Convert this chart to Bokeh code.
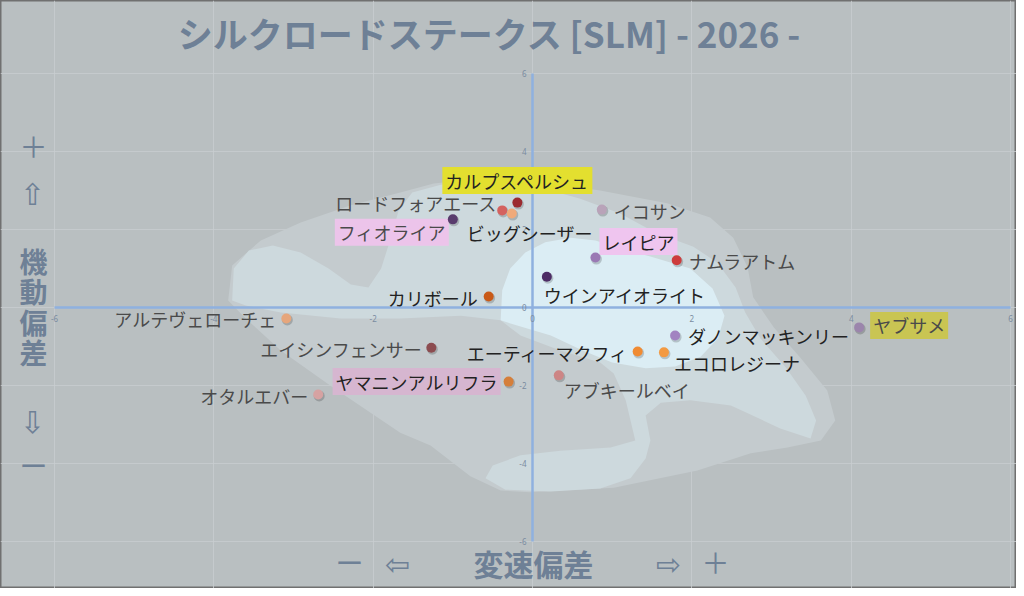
from bokeh.plotting import figure
from bokeh.models import Range1d, FixedTicker, ColumnDataSource
from bokeh.core.properties import value
from bokeh.embed import file_html
from bokeh.resources import INLINE

# ---------------- data ----------------
TITLE = "シルクロードステークス [SLM]  - 2026 -"
X_LABEL = "変速偏差"
Y_LABEL = "機動偏差"

horses = ["カルプスペルシュ", "ロードフォアエース", "ビッグシーザー", "フィオライア",
          "イコサン", "レイピア", "ナムラアトム", "ウインアイオライト", "カリボール",
          "アルテヴェローチェ", "エイシンフェンサー", "ヤマニンアルリフラ", "オタルエバー",
          "ダノンマッキンリー", "ヤブサメ", "エーティーマクフィ", "エコロレジーナ", "アブキールベイ"]
speed_dev = [-0.19, -0.38, -0.26, -1.00, 0.87, 0.79, 1.81, 0.18, -0.55,
             -3.09, -1.27, -0.30, -2.69, 1.79, 4.10, 1.32, 1.65, 0.33]
agility_dev = [2.69, 2.49, 2.41, 2.26, 2.51, 1.28, 1.21, 0.79, 0.28,
               -0.28, -1.03, -1.90, -2.23, -0.72, -0.51, -1.13, -1.15, -1.74]

TICKS = [-6, -4, -2, 0, 2, 4, 6]
AXIS_LIMITS = [-6, 6]

# density zones (data units)
zone_outer_x = [-3.82, -3.77, -3.41, -2.91, -2.28, -1.66, -1.24, -0.65, -0.03, 0.85, 1.69, 2.23,
                2.52, 2.70, 2.77, 3.03, 3.36, 3.70, 3.80, 3.62, 3.20, 2.74, 2.07, 1.02, -0.03,
                -0.40, -0.78, -1.28, -1.66, -2.54, -3.16, -3.60]
zone_outer_y = [0.18, 1.08, 1.72, 2.18, 2.62, 2.95, 3.18, 3.31, 3.26, 3.00, 2.67, 2.31,
                1.79, 1.03, 0.26, -0.51, -1.28, -2.13, -2.90, -3.41, -3.59, -3.74, -4.18, -4.62, -4.74,
                -4.69, -4.33, -3.54, -3.21, -2.00, -1.10, -0.28]
zone_mid_x = [-3.77, -3.75, -3.56, -3.26, -2.91, -2.56, -2.28, -2.06, -1.90, -1.78, -1.68, -1.51,
              -1.15, -0.65, -0.03, 0.60, 1.10, 1.54, 2.02, 2.32, 2.55, 2.67, 2.86, 3.18, 3.43,
              3.56, 3.49, 3.11, 2.49, 1.98, 1.61, 1.42, 1.48, 1.42, 1.23, 0.85, 0.23, -0.34,
              -0.59, -0.50, -0.15, 0.35, 0.98, 1.29, 1.17, 1.02, 0.85, 0.35, -0.15, -0.40,
              -0.90, -1.66, -2.41, -3.16, -3.60]
zone_mid_y = [0.18, 1.00, 1.46, 1.59, 1.41, 1.00, 0.59, 0.51, 1.00, 1.77, 2.49, 2.95,
              3.15, 3.23, 3.15, 2.79, 2.41, 1.92, 1.56, 1.15, 0.51, -0.13, -0.79, -1.54, -2.26,
              -2.90, -3.36, -3.10, -2.51, -2.38, -2.44, -2.77, -3.41, -3.87, -4.38, -4.64, -4.72, -4.67,
              -4.38, -4.05, -3.79, -3.67, -3.59, -3.41, -2.38, -1.69, -1.41, -1.10, -0.72, -0.33,
              -0.21, -0.28, -0.28, -0.13, 0.05]
zone_core_x = [-0.40, -0.38, -0.28, -0.09, 0.16, 0.48, 0.79, 1.10, 1.48, 1.98, 2.26, 2.41,
               2.33, 2.11, 1.79, 1.42, 1.00, 0.63, 0.23, -0.15]
zone_core_y = [-0.33, 0.44, 1.00, 1.41, 1.67, 1.79, 1.72, 1.51, 1.31, 1.00, 0.49, -0.21,
               -0.79, -1.26, -1.51, -1.56, -1.41, -1.10, -0.72, -0.49]

# ---------------- styles ----------------
POINT_COLORS = {
    "カルプスペルシュ": "#9b2b30", "ロードフォアエース": "#d4625f", "ビッグシーザー": "#f0aa7a",
    "フィオライア": "#593c6d", "イコサン": "#b9a3b9", "レイピア": "#9a79b4", "ナムラアトム": "#cd3c3c",
    "ウインアイオライト": "#4d2c65", "カリボール": "#c95a18", "アルテヴェローチェ": "#e6a67c",
    "エイシンフェンサー": "#8c4c50", "ヤマニンアルリフラ": "#d57f3b", "オタルエバー": "#d6a2a2",
    "ダノンマッキンリー": "#a283c1", "ヤブサメ": "#9b85ac", "エーティーマクフィ": "#f08b33",
    "エコロレジーナ": "#f39a42", "アブキールベイ": "#cd8585",
}
# label offsets in screen px (dx right, dy down) and alignment
LABEL_LAYOUT = {
    "カルプスペルシュ": (0, -22, "center"), "ロードフォアエース": (-5, -7, "right"),
    "ビッグシーザー": (-45, 19, "left"), "フィオライア": (-7, 13, "right"),
    "イコサン": (12, 1, "left"), "レイピア": (7, -16, "left"), "ナムラアトム": (12, 1, "left"),
    "ウインアイオライト": (-3, 18, "left"), "カリボール": (-11, 1, "right"),
    "アルテヴェローチェ": (-10, 1, "right"), "エイシンフェンサー": (-9, 1, "right"),
    "ヤマニンアルリフラ": (-11, 0, "right"), "オタルエバー": (-10, 2, "right"),
    "ダノンマッキンリー": (13, 0, "left"), "ヤブサメ": (14, -2, "left"),
    "エーティーマクフィ": (-9, 1, "right"), "エコロレジーナ": (10, 11, "left"),
    "アブキールベイ": (5, 15, "left"),
}
DARK_LABELS = {"カルプスペルシュ", "ビッグシーザー", "レイピア", "ウインアイオライト", "カリボール",
               "ダノンマッキンリー", "エーティーマクフィ", "エコロレジーナ", "ヤマニンアルリフラ"}
HIGHLIGHT = {"カルプスペルシュ": "#e3df2f", "フィオライア": "#ecc4ea", "レイピア": "#efc5ef",
             "ヤマニンアルリフラ": "#d6b6d0", "ヤブサメ": "#c9c553"}

BG = "#b9bfc1"
Z1, Z2, Z3 = "#c4cbce", "#cdd9dd", "#dbedf4"
SLATE = "#6e8096"
JP = value("Noto Sans CJK JP")
ARROW = value("DejaVu Sans")
LABEL_FS = 18

# ---------------- layout ----------------
W, H = 1016, 588
PX_X, PX_Y = 79.667, 39.0      # pixels per data unit
OX, OY = 532, 307              # pixel of the data origin


def fx(px):
    return (px - OX) / PX_X


def fy(py):
    return (OY - py) / PX_Y


p = figure(width=W, height=H, output_backend="svg", toolbar_location=None,
           x_range=Range1d(fx(0), fx(W)), y_range=Range1d(fy(H), fy(0)),
           min_border=0, min_border_left=0, min_border_right=0,
           min_border_top=0, min_border_bottom=0)
p.axis.visible = False
p.background_fill_color = BG
p.border_fill_color = BG
p.outline_line_color = "#707070"
p.outline_line_width = 2

p.xgrid.ticker = FixedTicker(ticks=TICKS)
p.ygrid.ticker = FixedTicker(ticks=TICKS)
p.xgrid.bounds = (AXIS_LIMITS[0], AXIS_LIMITS[1])
p.ygrid.bounds = (AXIS_LIMITS[0], AXIS_LIMITS[1])
p.grid.grid_line_color = "#c8cdcf"
p.grid.grid_line_width = 1
p.grid.grid_line_alpha = 0.8

# density zones
p.patch(zone_outer_x, zone_outer_y, fill_color=Z1, line_color=None)
p.patch(zone_mid_x, zone_mid_y, fill_color=Z2, line_color=None)
p.patch(zone_core_x, zone_core_y, fill_color=Z3, line_color=None)

# zero axes
p.line(AXIS_LIMITS, [0, 0], line_color="#8fb1df", line_width=2.5)
p.line([0, 0], AXIS_LIMITS, line_color="#8fb1df", line_width=2.5)

# tick labels
tick_txt = [str(t) for t in TICKS]
p.text(x=TICKS, y=[fy(OY + 11)] * len(TICKS), text=tick_txt, text_font=value("Noto Sans"),
       text_font_size="8px", text_color="#7a8ba0", text_align="center", text_baseline="middle")
p.text(x=[fx(OX - 6)] * len(TICKS), y=TICKS, text=tick_txt, text_font=value("Noto Sans"),
       text_font_size="8px", text_color="#7a8ba0", text_align="right", text_baseline="middle")

# labels & highlight boxes
groups = {"left": {"x": [], "y": [], "t": [], "c": []},
          "right": {"x": [], "y": [], "t": [], "c": []},
          "center": {"x": [], "y": [], "t": [], "c": []}}
box = {"x": [], "y": [], "w": [], "h": [], "c": []}
for name, xv, yv in zip(horses, speed_dev, agility_dev):
    dx, dy, al = LABEL_LAYOUT[name]
    lx = xv + dx / PX_X
    ly = yv - dy / PX_Y
    g = groups[al]
    g["x"].append(lx)
    g["y"].append(ly)
    g["t"].append(name)
    g["c"].append("#222222" if name in DARK_LABELS else "#4a4a4a")
    if name in HIGHLIGHT:
        wpx = len(name) * LABEL_FS + 6
        if al == "left":
            cx = lx + (wpx / 2 - 3) / PX_X
        elif al == "right":
            cx = lx - (wpx / 2 - 3) / PX_X
        else:
            cx = lx
        box["x"].append(cx)
        box["y"].append(ly)
        box["w"].append(wpx / PX_X)
        box["h"].append(27 / PX_Y)
        box["c"].append(HIGHLIGHT[name])

p.rect(x="x", y="y", width="w", height="h", fill_color="c", line_color=None,
       source=ColumnDataSource(box))

# point shadows + points
p.scatter([v + 1 / PX_X for v in speed_dev], [v - 1.5 / PX_Y for v in agility_dev],
          size=11, fill_color="#000000", fill_alpha=0.18, line_color=None)
p.scatter(speed_dev, agility_dev, size=10,
          fill_color=[POINT_COLORS[n] for n in horses], line_color=None)

for al, g in groups.items():
    src = ColumnDataSource(dict(x=g["x"], y=g["y"], t=g["t"], c=g["c"]))
    p.text(x="x", y="y", text="t", text_color="c", source=src, text_font=JP,
           text_font_size=f"{LABEL_FS}px", text_align=al, text_baseline="middle")

# title
p.text(x=[fx(493)], y=[fy(32)], text=[TITLE], text_font=JP, text_font_size="35px",
       text_font_style="bold", text_color=SLATE, text_align="center", text_baseline="middle")

# vertical axis caption (stacked)
p.text(x=[fx(33)], y=[fy(145)], text=["＋"], text_font=JP, text_font_size="28px",
       text_color=SLATE, text_align="center", text_baseline="middle")
p.text(x=[fx(32)], y=[fy(194)], text=["⇧"], text_font=ARROW, text_font_size="30px",
       text_color=SLATE, text_align="center", text_baseline="middle")
p.text(x=[fx(33)], y=[fy(306)], text=["\n".join(Y_LABEL)], text_font=JP, text_font_size="28px",
       text_font_style="bold", text_color=SLATE, text_align="center", text_baseline="middle",
       text_line_height=0.76)
p.text(x=[fx(32)], y=[fy(422)], text=["⇩"], text_font=ARROW, text_font_size="30px",
       text_color=SLATE, text_align="center", text_baseline="middle")
p.text(x=[fx(33)], y=[fy(464)], text=["ー"], text_font=JP, text_font_size="28px",
       text_color=SLATE, text_align="center", text_baseline="middle")

# horizontal axis caption
p.text(x=[fx(349)], y=[fy(561)], text=["ー"], text_font=JP, text_font_size="28px",
       text_color=SLATE, text_align="center", text_baseline="middle")
p.text(x=[fx(397)], y=[fy(564)], text=["⇦"], text_font=ARROW, text_font_size="30px",
       text_color=SLATE, text_align="center", text_baseline="middle")
p.text(x=[fx(533)], y=[fy(562)], text=[X_LABEL], text_font=JP, text_font_size="30px",
       text_font_style="bold", text_color=SLATE, text_align="center", text_baseline="middle")
p.text(x=[fx(668)], y=[fy(564)], text=["⇨"], text_font=ARROW, text_font_size="30px",
       text_color=SLATE, text_align="center", text_baseline="middle")
p.text(x=[fx(715)], y=[fy(561)], text=["＋"], text_font=JP, text_font_size="28px",
       text_color=SLATE, text_align="center", text_baseline="middle")

open("out.html", "w").write(file_html(p, INLINE))
